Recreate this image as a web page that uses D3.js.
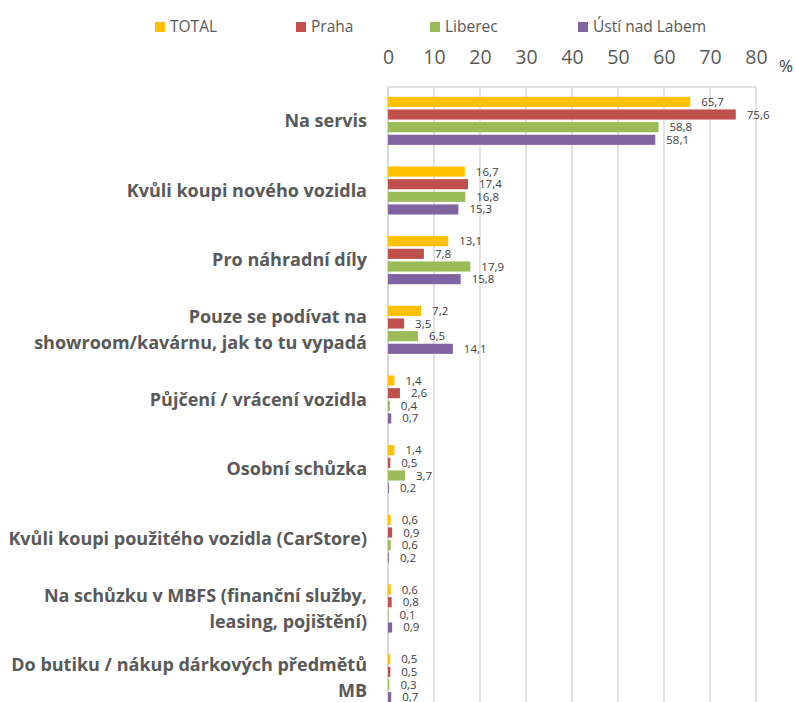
<!DOCTYPE html>
<html>
<head>
<meta charset="utf-8">
<script src="https://cdn.jsdelivr.net/npm/d3@7"></script>
<style>
  html, body { margin: 0; padding: 0; background: #ffffff; }
  svg { display: block; }
</style>
</head>
<body>
<svg id="chart" width="795" height="702"></svg>
<script>
// Reasons for visiting the dealership, % of respondents
const categories = [
  "Na servis",
  "Kvůli koupi nového vozidla",
  "Pro náhradní díly",
  "Pouze se podívat na\nshowroom/kavárnu, jak to tu vypadá",
  "Půjčení / vrácení vozidla",
  "Osobní schůzka",
  "Kvůli koupi použitého vozidla (CarStore)",
  "Na schůzku v MBFS (finanční služby,\nleasing, pojištění)",
  "Do butiku / nákup dárkových předmětů\nMB"
];
const seriesNames = ["TOTAL", "Praha", "Liberec", "Ústí nad Labem"];
const totalValues   = [65.7, 16.7, 13.1, 7.2, 1.4, 1.4, 0.6, 0.6, 0.5];
const prahaValues   = [75.6, 17.4, 7.8, 3.5, 2.6, 0.5, 0.9, 0.8, 0.5];
const liberecValues = [58.8, 16.8, 17.9, 6.5, 0.4, 3.7, 0.6, 0.1, 0.3];
const ustiValues    = [58.1, 15.3, 15.8, 14.1, 0.7, 0.2, 0.2, 0.9, 0.7];
const tickValues = [0, 10, 20, 30, 40, 50, 60, 70, 80];
const seriesColors = ["#FFC000", "#C0504D", "#9BBB59", "#8064A2"];

const seriesValues = [totalValues, prahaValues, liberecValues, ustiValues];

const svg = d3.select("#chart");
const font = "'Open Sans', 'Noto Sans', sans-serif";

const plot = { left: 388, right: 756, top: 87, bottom: 702 };

const x = d3.scaleLinear().domain([0, 80]).range([plot.left, plot.right]);
const y = d3.scaleBand().domain(categories).range([86, 713])
  .paddingInner(0.31).paddingOuter(0.155);
const ySub = d3.scaleBand().domain(seriesNames).range([0, y.bandwidth()])
  .paddingInner(0.2);

const fmt = v => d3.format(".1f")(v).replace(".", ",");

// Vertical gridlines
svg.append("g")
  .selectAll("line")
  .data(tickValues)
  .join("line")
  .attr("x1", d => x(d)).attr("x2", d => x(d))
  .attr("y1", plot.top).attr("y2", plot.bottom)
  .attr("stroke", "#d9d9d9")
  .attr("stroke-width", d => d === 0 ? 2 : 1.5);

// Top edge of the plot area
svg.append("line")
  .attr("x1", plot.left).attr("x2", plot.right)
  .attr("y1", plot.top).attr("y2", plot.top)
  .attr("stroke", "#d9d9d9").attr("stroke-width", 1.5);

// Value axis along the top
const axis = svg.append("g")
  .attr("transform", "translate(0,64)")
  .call(d3.axisTop(x).tickValues(tickValues).tickSize(0).tickPadding(0));
axis.select(".domain").remove();
axis.selectAll("text")
  .attr("font-family", font)
  .attr("font-size", 19.5)
  .attr("fill", "#595959");

svg.append("text")
  .attr("x", 786).attr("y", 72)
  .attr("text-anchor", "middle")
  .attr("font-family", font)
  .attr("font-size", 17)
  .attr("fill", "#404040")
  .text("%");

// Bars and value labels
const groups = svg.append("g")
  .selectAll("g")
  .data(categories)
  .join("g")
  .attr("transform", c => `translate(0,${y(c)})`);

groups.each(function (c, ci) {
  const g = d3.select(this);
  const rows = seriesNames.map((s, si) => ({ s, si, v: seriesValues[si][ci] }));
  g.selectAll("rect")
    .data(rows)
    .join("rect")
    .attr("x", x(0))
    .attr("y", d => ySub(d.s))
    .attr("width", d => x(d.v) - x(0))
    .attr("height", ySub.bandwidth())
    .attr("fill", d => seriesColors[d.si]);
  g.selectAll("text")
    .data(rows)
    .join("text")
    .attr("x", d => x(d.v) + 11)
    .attr("y", d => ySub(d.s) + ySub.bandwidth() / 2)
    .attr("dy", "0.35em")
    .attr("font-family", font)
    .attr("font-size", 11.5)
    .attr("fill", "#404040")
    .text(d => fmt(d.v));
});

// Category labels
const lineHeight = 26;
svg.append("g")
  .selectAll("text")
  .data(categories)
  .join("text")
  .attr("text-anchor", "end")
  .attr("font-family", font)
  .attr("font-size", 18)
  .attr("font-weight", "bold")
  .attr("fill", "#595959")
  .each(function (c) {
    const lines = c.split("\n");
    const cy = y(c) + y.bandwidth() / 2;
    const t = d3.select(this);
    lines.forEach((ln, i) => {
      t.append("tspan")
        .attr("x", 367)
        .attr("y", cy + (i - (lines.length - 1) / 2) * lineHeight)
        .attr("dy", "0.35em")
        .text(ln);
    });
  });

// Legend
const legendX = [155, 296, 430, 578];
const legend = svg.append("g")
  .selectAll("g")
  .data(seriesNames)
  .join("g")
  .attr("transform", (d, i) => `translate(${legendX[i]},22)`);
legend.append("rect")
  .attr("width", 10).attr("height", 10)
  .attr("fill", (d, i) => seriesColors[i]);
legend.append("text")
  .attr("x", 15).attr("y", 5)
  .attr("dy", "0.35em")
  .attr("font-family", font)
  .attr("font-size", 15.5)
  .attr("fill", "#595959")
  .text(d => d);
</script>
</body>
</html>
